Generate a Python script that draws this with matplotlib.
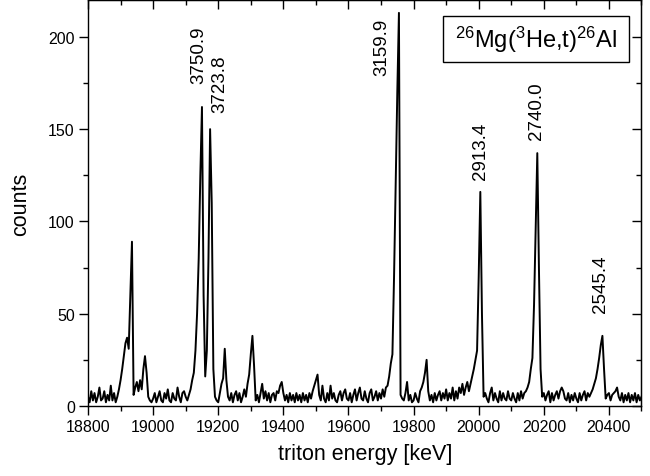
import numpy as np
import matplotlib
matplotlib.use("Agg")
import matplotlib.pyplot as plt
from matplotlib.ticker import MultipleLocator
from matplotlib.patches import Rectangle

plt.rcParams['font.family'] = ['Liberation Sans', 'DejaVu Sans']
plt.rcParams['mathtext.fontset'] = 'custom'
plt.rcParams['mathtext.rm'] = 'Liberation Sans'
plt.rcParams['mathtext.it'] = 'Liberation Sans:italic'

# spectrum: counts in 5 keV steps starting at 18800 keV
e_start = 18800
e_step = 5
counts = [
    # 18800
    5, 2, 8, 3, 7, 2, 5, 10, 3, 4, 8, 2, 6, 3, 11, 3, 7, 2, 5, 9,
    # 18900
    14, 20, 27, 34, 37, 31, 60, 89, 6, 10, 13, 8, 14, 9, 20, 27, 18, 5, 3, 2,
    # 19000
    4, 7, 2, 5, 8, 3, 2, 7, 4, 9, 3, 2, 7, 4, 3, 10, 5, 2, 7, 8,
    # 19100
    5, 3, 6, 9, 14, 18, 30, 50, 80, 125, 162, 60, 16, 30, 80, 150, 110, 20, 5, 3,
    # 19200
    2, 7, 12, 15, 31, 14, 5, 3, 7, 2, 6, 8, 3, 7, 2, 5, 9, 5, 12, 17,
    # 19300
    28, 38, 22, 3, 6, 2, 7, 12, 4, 8, 3, 7, 2, 6, 7, 3, 8, 7, 11, 13,
    # 19400
    7, 3, 6, 2, 7, 3, 6, 2, 7, 3, 6, 2, 7, 3, 6, 2, 7, 4, 8, 11,
    # 19500
    14, 17, 6, 3, 11, 4, 2, 7, 3, 11, 4, 7, 3, 2, 6, 8, 3, 7, 9, 4,
    # 19600
    3, 7, 2, 6, 9, 3, 7, 10, 4, 3, 8, 4, 2, 7, 9, 3, 5, 8, 3, 7,
    # 19700
    4, 9, 5, 10, 11, 16, 23, 28, 70, 120, 170, 213, 6, 4, 3, 7, 13, 3, 6, 2,
    # 19800
    3, 7, 4, 2, 8, 10, 13, 18, 25, 8, 3, 6, 2, 7, 3, 6, 8, 3, 7, 4,
    # 19900
    9, 3, 7, 4, 10, 3, 8, 4, 10, 7, 12, 6, 10, 13, 8, 12, 16, 20, 25, 30,
    # 20000
    70, 116, 50, 5, 7, 4, 2, 7, 10, 3, 7, 4, 2, 8, 3, 7, 4, 3, 8, 4,
    # 20100
    3, 7, 4, 2, 7, 3, 8, 4, 7, 8, 10, 13, 20, 26, 55, 95, 137, 75, 20, 5,
    # 20200
    7, 3, 6, 8, 2, 7, 3, 6, 8, 4, 8, 10, 8, 4, 3, 7, 2, 6, 3, 7,
    # 20300
    4, 2, 7, 3, 6, 8, 3, 7, 5, 7, 9, 12, 15, 20, 26, 33, 38, 20, 4, 6,
    # 20400
    7, 3, 6, 7, 8, 10, 5, 3, 7, 2, 6, 3, 7, 2, 6, 3, 7, 2, 6, 3,
    # 20500
    5,
]
energy = e_start + e_step * np.arange(len(counts))

# peak annotations (excitation energies in keV)
peak_labels = ['3750.9', '3723.8', '3159.9', '2913.4', '2740.0', '2545.4']
label_x = [19141, 19205, 19704, 20004, 20177, 20374]
label_y = [175, 159.5, 179.5, 123, 144.5, 51]

x_ticks = [18800, 19000, 19200, 19400, 19600, 19800, 20000, 20200, 20400]
y_ticks = [0, 50, 100, 150, 200]

fig = plt.figure(figsize=(6.5, 4.77), dpi=100)
ax = fig.add_axes([0.1354, 0.1468, 0.8515, 0.8512])

ax.plot(energy, counts, color='black', linewidth=1.4)

ax.set_xlim(18800, 20500)
ax.set_ylim(0, 220)
ax.set_xticks(x_ticks)
ax.set_yticks(y_ticks)
ax.xaxis.set_minor_locator(MultipleLocator(100))
ax.yaxis.set_minor_locator(MultipleLocator(25))
ax.tick_params(which='both', direction='out', labelsize=11.5, width=1.0,
               top=False, right=False)
ax.tick_params(which='major', length=6.5, pad=3)
ax.tick_params(which='minor', length=3.5)

secx = ax.secondary_xaxis('top')
secx.set_xticks(x_ticks)
secx.xaxis.set_minor_locator(MultipleLocator(100))
secx.tick_params(which='both', direction='in', labeltop=False, width=1.0)
secx.tick_params(which='major', length=6.5)
secx.tick_params(which='minor', length=3.5)

secy = ax.secondary_yaxis('right')
secy.set_yticks(y_ticks)
secy.yaxis.set_minor_locator(MultipleLocator(25))
secy.tick_params(which='both', direction='in', labelright=False, width=1.0)
secy.tick_params(which='major', length=6.5)
secy.tick_params(which='minor', length=3.5)

for sp in ax.spines.values():
    sp.set_linewidth(1.0)

ax.set_xlabel('triton energy [keV]', fontsize=15.5, labelpad=6)
ax.set_ylabel('counts', fontsize=15.5, labelpad=12)

for lab, lx, ly in zip(peak_labels, label_x, label_y):
    ax.text(lx, ly, lab, rotation=90, ha='center', va='bottom', fontsize=13.5)

ax.add_patch(Rectangle((0.641, 0.848), 0.337, 0.112, transform=ax.transAxes,
                       facecolor='white', edgecolor='black', linewidth=1.0,
                       zorder=5))
ax.text(0.809, 0.904, r'$^{\mathrm{26}}$Mg($^{\mathrm{3}}$He,t)$^{\mathrm{26}}$Al',
        transform=ax.transAxes, ha='center', va='center', fontsize=17, zorder=6)

fig.savefig('out.png', dpi=100)
